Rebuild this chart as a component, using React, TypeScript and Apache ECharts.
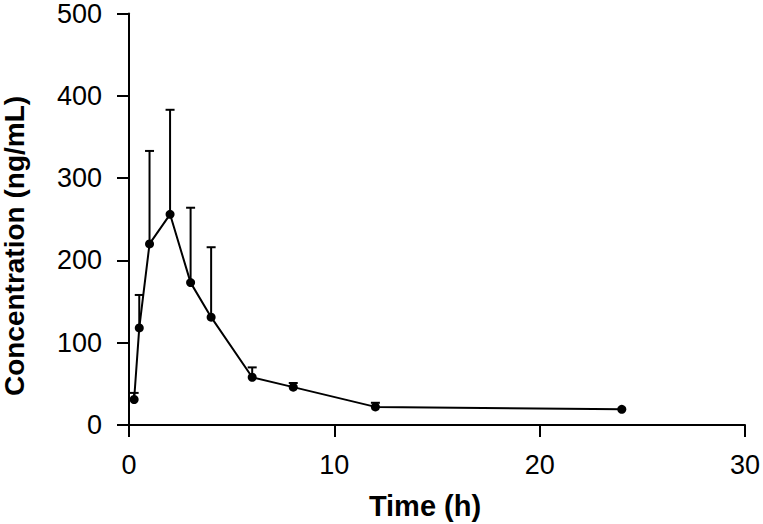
import React, { useEffect, useRef } from "react";
import * as echarts from "echarts";

const times = [0.25, 0.5, 1, 2, 3, 4, 6, 8, 12, 24];
const means = [31, 118, 220, 256, 173, 131, 58, 46, 22, 19];
const upper = [39, 158, 333, 383, 264, 216, 70, 51, 27, 19];
const xTicks = [0, 10, 20, 30];
const yTicks = [0, 100, 200, 300, 400, 500];

const FONT = "Liberation Sans, Arial, sans-serif";

export default function App() {
  const ref = useRef<HTMLDivElement>(null);
  useEffect(() => {
    if (!ref.current) return;
    const chart = echarts.init(ref.current, undefined, { renderer: "svg" });
    const lineData = times.map((t, i) => [t, means[i]]);
    const errData = times.map((t, i) => [t, means[i], upper[i]]);
    chart.setOption({
      animation: false,
      backgroundColor: "#fff",
      grid: { left: 129, right: 16, top: 11, bottom: 99, containLabel: false },
      xAxis: {
        type: "value",
        min: xTicks[0],
        max: xTicks[xTicks.length - 1],
        interval: 10,
        axisLine: { show: true, onZero: false, lineStyle: { color: "#000", width: 2 } },
        axisTick: { show: true, inside: false, length: 12, lineStyle: { color: "#000", width: 2 } },
        axisLabel: { color: "#000", fontSize: 27, fontFamily: FONT, margin: 26 },
        splitLine: { show: false },
      },
      yAxis: {
        type: "value",
        min: yTicks[0],
        max: yTicks[yTicks.length - 1],
        interval: 100,
        axisLine: { show: true, lineStyle: { color: "#000", width: 2 } },
        axisTick: { show: true, inside: false, length: 12, lineStyle: { color: "#000", width: 2 } },
        axisLabel: { color: "#000", fontSize: 27, fontFamily: FONT, margin: 27 },
        splitLine: { show: false },
      },
      graphic: [
        {
          type: "text",
          x: 14,
          y: 246,
          rotation: Math.PI / 2,
          style: {
            text: "Concentration (ng/mL)",
            fontSize: 28,
            fontWeight: "bold",
            fontFamily: FONT,
            fill: "#000",
            align: "center",
            verticalAlign: "middle",
          },
        },
        {
          type: "text",
          x: 425,
          y: 506,
          style: {
            text: "Time (h)",
            fontSize: 29,
            fontWeight: "bold",
            fontFamily: FONT,
            fill: "#000",
            align: "center",
            verticalAlign: "middle",
          },
        },
      ],
      series: [
        {
          type: "custom",
          data: errData,
          z: 1,
          renderItem: (params: any, api: any) => {
            const x = api.value(0);
            const m = api.value(1);
            const u = api.value(2);
            const p0 = api.coord([x, m]);
            const p1 = api.coord([x, u]);
            if (Math.abs(p0[1] - p1[1]) < 1) return { type: "group", children: [] };
            const style = { stroke: "#000", lineWidth: 2 };
            return {
              type: "group",
              children: [
                { type: "line", shape: { x1: p0[0], y1: p0[1], x2: p1[0], y2: p1[1] }, style },
                { type: "line", shape: { x1: p1[0] - 4.5, y1: p1[1], x2: p1[0] + 4.5, y2: p1[1] }, style },
              ],
            };
          },
        },
        {
          type: "line",
          data: lineData,
          z: 2,
          symbol: "circle",
          symbolSize: 9,
          showSymbol: true,
          lineStyle: { color: "#000", width: 2 },
          itemStyle: { color: "#000" },
        },
      ],
    });
    return () => chart.dispose();
  }, []);
  return (
    <div
      ref={ref}
      style={{ position: "fixed", left: 0, top: 0, width: 763, height: 524 }}
    />
  );
}
